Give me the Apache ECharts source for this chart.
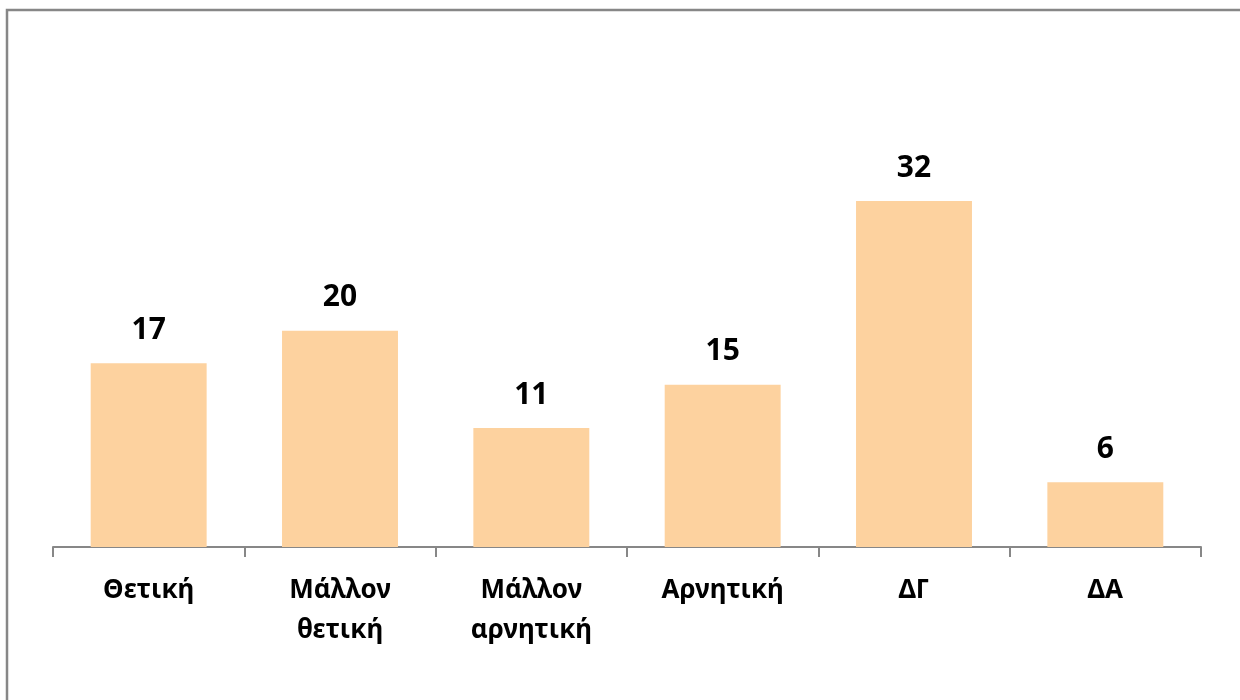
<!DOCTYPE html>
<html>
<head>
<meta charset="utf-8">
<script src="https://cdn.jsdelivr.net/npm/echarts@6/dist/echarts.min.js"></script>
<style>
html,body{margin:0;padding:0;background:#fff;}
#main{width:1240px;height:700px;}
</style>
</head>
<body>
<div id="main"></div>
<script>
const categories = ['Θετική', 'Μάλλον\nθετική', 'Μάλλον\nαρνητική', 'Αρνητική', 'ΔΓ', 'ΔΑ'];
const values = [17, 20, 11, 15, 32, 6];

const chart = echarts.init(document.getElementById('main'));
chart.setOption({
  animation: false,
  backgroundColor: '#ffffff',
  graphic: [{
    type: 'rect',
    shape: { x: 7, y: 10, width: 1400, height: 900 },
    style: { fill: 'none', stroke: '#878787', lineWidth: 2.5 },
    silent: true
  }],
  grid: { left: 53, right: 39, top: 114.5, bottom: 153 },
  xAxis: {
    type: 'category',
    data: categories,
    axisLine: { lineStyle: { color: '#878787', width: 2 } },
    axisTick: { show: true, length: 10, lineStyle: { color: '#878787', width: 2 } },
    axisLabel: {
      color: '#000',
      fontFamily: 'Noto Sans',
      fontWeight: 'bold',
      fontSize: 26,
      lineHeight: 40,
      margin: 24,
      interval: 0
    }
  },
  yAxis: {
    type: 'value',
    min: 0,
    max: 40,
    show: false,
    splitLine: { show: false }
  },
  series: [{
    type: 'bar',
    data: values,
    barWidth: '60.6%',
    itemStyle: { color: '#FDD29F' },
    label: {
      show: true,
      position: 'top',
      distance: 18,
      color: '#000',
      fontFamily: 'Noto Sans',
      fontWeight: 'bold',
      fontSize: 30
    }
  }]
});
</script>
</body>
</html>
